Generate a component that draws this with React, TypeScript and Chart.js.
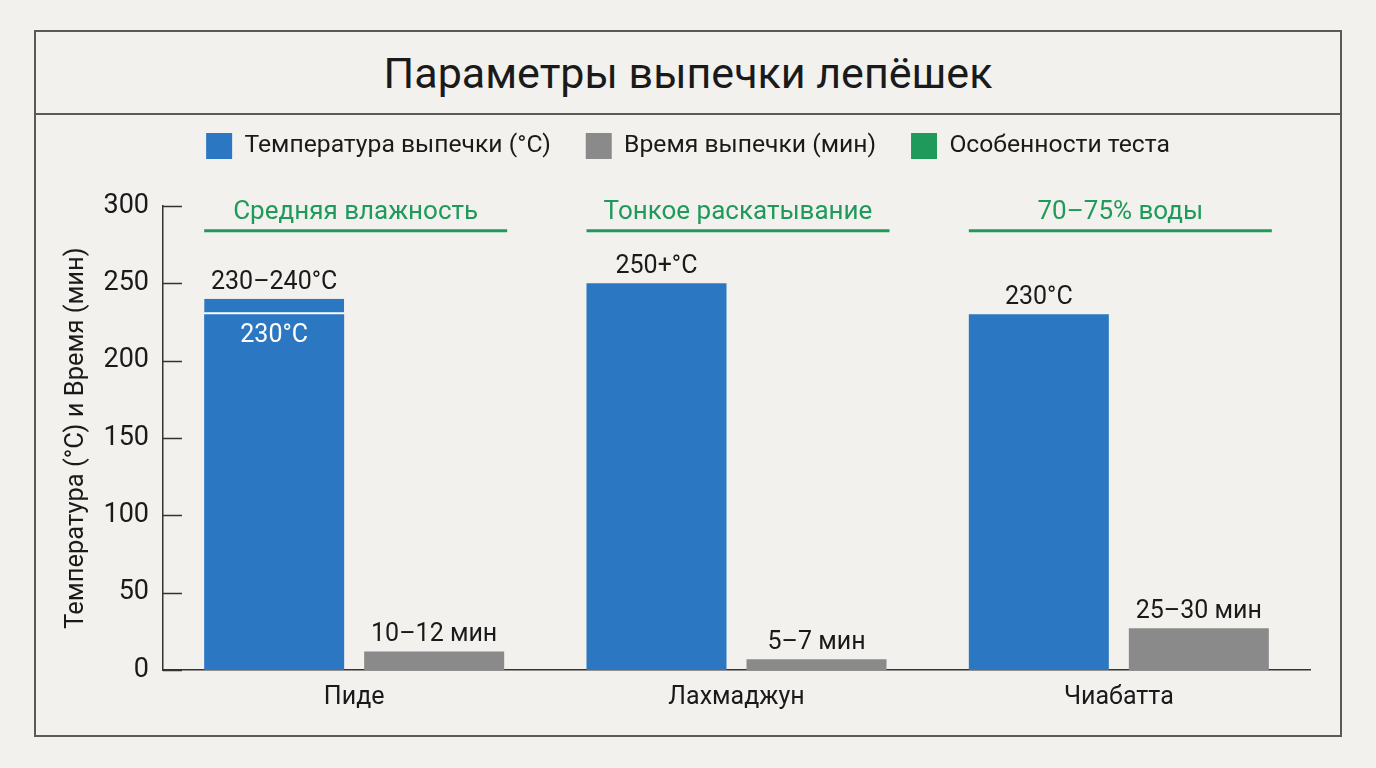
import { useEffect, useRef } from "react";
import { Chart, registerables } from "chart.js";

Chart.register(...registerables);

const categories = ["Пиде", "Лахмаджун", "Чиабатта"];
const tempValues = [230, 250, 230];
// upper part of the 230–240 range for pide
const tempRangeExtra = [10, null, null];
const timeValues = [12, 7, 27];
const tempLabels = ["230–240°C", "250+°C", "230°C"];
const tempInnerLabels = ["230°C", "", ""];
const timeLabels = ["10–12 мин", "5–7 мин", "25–30 мин"];
const doughNotes = ["Средняя влажность", "Тонкое раскатывание", "70–75% воды"];
const seriesNames = ["Температура выпечки (°C)", "Время выпечки (мин)", "Особенности теста"];

const BLUE = "#2b77c1";
const GRAY = "#8a8a8a";
const GREEN = "#1f9a5b";
const TEXT = "#1a1a1a";
const AXIS = "#333333";
const BG = "#f2f1ee";
const FONT = "Roboto, 'Noto Sans', sans-serif";

const NOTE_LINE_AT = 284; // y value where the green note lines sit

const overlayPlugin = {
  id: "overlay",
  afterDatasetsDraw(chart: any) {
    const { ctx, chartArea, scales } = chart;
    const y = scales.y;
    ctx.save();

    // inward tick marks
    ctx.strokeStyle = AXIS;
    ctx.lineWidth = 1.5;
    y.ticks.forEach((t: any) => {
      const py = Math.round(y.getPixelForValue(t.value)) + 0.5;
      ctx.beginPath();
      ctx.moveTo(chartArea.left, py);
      ctx.lineTo(chartArea.left + 19, py);
      ctx.stroke();
    });

    const tempMeta = chart.getDatasetMeta(0);
    const rangeMeta = chart.getDatasetMeta(1);
    const timeMeta = chart.getDatasetMeta(2);

    ctx.textAlign = "center";
    ctx.textBaseline = "alphabetic";
    categories.forEach((_, i) => {
      const tb = tempMeta.data[i];
      const rb = rangeMeta.data[i];
      const gb = timeMeta.data[i];
      const top = tempRangeExtra[i] != null ? rb.y : tb.y;

      ctx.font = `25px ${FONT}`;
      ctx.fillStyle = TEXT;
      ctx.fillText(tempLabels[i], tb.x, top - 10);
      ctx.fillText(timeLabels[i], gb.x, gb.y - 10);
      if (tempInnerLabels[i]) {
        ctx.fillStyle = "#ffffff";
        ctx.fillText(tempInnerLabels[i], tb.x, tb.y + 28);
      }

      // dough notes
      const left = tb.x - tb.width / 2;
      const right = gb.x + gb.width / 2 + 3;
      const ly = y.getPixelForValue(NOTE_LINE_AT);
      ctx.strokeStyle = GREEN;
      ctx.lineWidth = 3;
      ctx.beginPath();
      ctx.moveTo(left, ly);
      ctx.lineTo(right, ly);
      ctx.stroke();
      ctx.fillStyle = GREEN;
      ctx.font = `26px ${FONT}`;
      ctx.fillText(doughNotes[i], (left + right) / 2, ly - 12);
    });
    ctx.restore();
  },
};

function BreadChart() {
  const canvasRef = useRef<HTMLCanvasElement>(null);
  const chartRef = useRef<Chart | null>(null);

  useEffect(() => {
    if (chartRef.current) chartRef.current.destroy();
    if (!canvasRef.current) return;

    chartRef.current = new Chart(canvasRef.current, {
      type: "bar",
      data: {
        labels: categories,
        datasets: [
          {
            label: seriesNames[0],
            data: tempValues,
            backgroundColor: BLUE,
            borderWidth: 0,
            stack: "temp",
          },
          {
            label: "range",
            data: tempRangeExtra,
            backgroundColor: BLUE,
            borderColor: "#ffffff",
            borderWidth: { top: 0, left: 0, right: 0, bottom: 2 },
            borderSkipped: false,
            stack: "temp",
          },
          {
            label: seriesNames[1],
            data: timeValues,
            backgroundColor: GRAY,
            borderWidth: 0,
            stack: "time",
          },
        ],
      },
      options: {
        animation: false,
        responsive: true,
        maintainAspectRatio: false,
        categoryPercentage: 0.837,
        barPercentage: 0.875,
        layout: { padding: { left: 30, right: 30, top: 10, bottom: 0 } },
        plugins: {
          tooltip: { enabled: false },
          title: { display: false },
          legend: {
            position: "top",
            align: "center",
            labels: {
              boxWidth: 26,
              boxHeight: 26,
              padding: 35,
              color: TEXT,
              font: { family: FONT, size: 24.7 },
              generateLabels: (chart: any) => {
                const items = Chart.defaults.plugins.legend.labels
                  .generateLabels(chart)
                  .filter((it: any) => it.datasetIndex !== 1);
                items.push({
                  text: seriesNames[2],
                  fillStyle: GREEN,
                  strokeStyle: GREEN,
                  lineWidth: 0,
                  hidden: false,
                  datasetIndex: -1,
                } as any);
                return items;
              },
            },
          },
        },
        scales: {
          x: {
            grid: { display: false, drawTicks: false },
            border: { display: true, color: AXIS, width: 1.5 },
            ticks: { color: TEXT, font: { family: FONT, size: 25 }, padding: 13 },
            afterFit: (s: any) => {
              s.height = 65;
            },
          },
          xTop: {
            type: "category",
            position: "top",
            grid: { display: false, drawTicks: false },
            border: { display: false },
            ticks: { display: false },
            afterFit: (s: any) => {
              s.height = 37;
            },
          },
          y: {
            stacked: true,
            min: 0,
            max: 300,
            grid: { display: false, drawTicks: false },
            border: { display: true, color: AXIS, width: 1.5 },
            ticks: {
              stepSize: 50,
              color: TEXT,
              font: { family: FONT, size: 27 },
              padding: 14,
            },
            title: {
              display: true,
              text: "Температура (°C) и Время (мин)",
              color: TEXT,
              font: { family: FONT, size: 25.5 },
              padding: { top: -5, bottom: 0 },
            },
            afterFit: (s: any) => {
              s.width = 97;
            },
          },
        },
      } as any,
      plugins: [overlayPlugin],
    });

    return () => {
      if (chartRef.current) {
        chartRef.current.destroy();
        chartRef.current = null;
      }
    };
  }, []);

  return (
    <div style={{ position: "fixed", inset: 0, background: BG }}>
      <div
        style={{
          position: "absolute",
          left: 34,
          top: 30,
          width: 1308,
          height: 707,
          border: "2px solid #5a5a5a",
          boxSizing: "border-box",
        }}
      >
        <div
          style={{
            height: 81,
            borderBottom: "2px solid #5a5a5a",
            display: "flex",
            alignItems: "center",
            justifyContent: "center",
            fontFamily: FONT,
            fontSize: 43,
            color: TEXT,
          }}
        >
          Параметры выпечки лепёшек
        </div>
        <div style={{ position: "absolute", left: 0, top: 56, width: 1304, height: 647 }}>
          <canvas ref={canvasRef} />
        </div>
      </div>
    </div>
  );
}

export default function App() {
  return <BreadChart />;
}
